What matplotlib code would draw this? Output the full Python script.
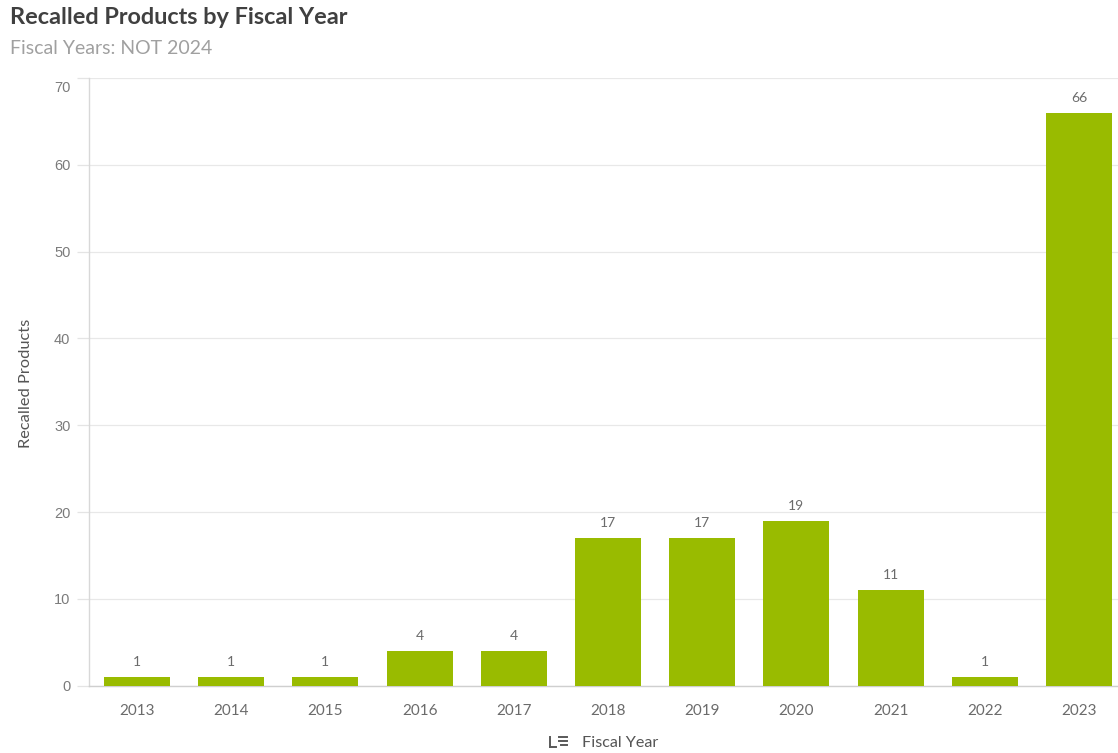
import matplotlib
matplotlib.use("Agg")
import matplotlib.pyplot as plt
from matplotlib.lines import Line2D

years = ["2013", "2014", "2015", "2016", "2017", "2018", "2019", "2020", "2021", "2022", "2023"]
recalled = [1, 1, 1, 4, 4, 17, 17, 19, 11, 1, 66]
y_ticks = [0, 10, 20, 30, 40, 50, 60, 70]

W, H = 1118, 753
plt.rcParams["font.family"] = ["Lato", "DejaVu Sans"]
fig = plt.figure(figsize=(W / 100, H / 100), dpi=100, facecolor="white")
L, R, T, B = 88.5, 1118, 78, 685.5
ax = fig.add_axes([L / W, 1 - B / H, (R - L) / W, (B - T) / H])

step = 94.2
ax.set_xlim(-(137 - L) / step, (R - 137) / step)
ax.set_ylim(0, 70)
ax.bar(range(len(years)), recalled, width=66 / step, color="#99BB00", zorder=3)

for s in ["top", "right"]:
    ax.spines[s].set_visible(False)
ax.spines["left"].set_color("#d8d8d8")
ax.spines["left"].set_linewidth(1.0)
ax.spines["bottom"].set_color("#cfcfcf")
ax.spines["bottom"].set_linewidth(1.0)
ax.set_axisbelow(True)
ax.yaxis.grid(True, color="#e8e8e8", linewidth=0.9)
ax.set_yticks(y_ticks)
ax.set_yticklabels([])
ax.tick_params(axis="y", length=8.6, width=0.9, color="#e4e4e4")
ax.set_xticks(range(len(years)))
ax.set_xticklabels(years, fontsize=11, color="#6b6b6b")
ax.tick_params(axis="x", length=0, pad=13)

# y labels; the top one is nudged inward, as in the reference
for v in y_ticks:
    off = 9 if v == 70 else 1
    ax.annotate(str(v), (0, v), xycoords=("axes fraction", "data"),
                xytext=(-13, -off * 0.72 - 0.5), textcoords="offset points",
                ha="right", va="center", fontsize=10.5, color="#7b7b7b",
                family="Liberation Sans")

for i, v in enumerate(recalled):
    ax.annotate(str(v), (i, v), xytext=(0, 6.5), textcoords="offset points",
                ha="center", va="bottom", fontsize=10, color="#6b6b6b")

fig.text(10 / W, 1 - 17 / H, "Recalled Products by Fiscal Year", fontsize=16.9,
         fontweight="bold", color="#404040", va="center", ha="left")
fig.text(10 / W, 1 - 48 / H, "Fiscal Years: NOT 2024", fontsize=14,
         color="#a0a0a0", va="center", ha="left")
fig.text(26 / W, 1 - 383 / H, "Recalled Products", fontsize=11.8, rotation=90,
         color="#555555", va="center", ha="center")
fig.text(582 / W, 1 - 743 / H, "Fiscal Year", fontsize=11.6, color="#555555",
         va="center", ha="left")

# sort icon next to the axis title
icon = [((550, 550), (737, 747)), ((550, 556), (747, 747)),
        ((559, 567), (737, 737)), ((559, 567), (741, 741)), ((561, 567), (745, 745))]
for xs, ys in icon:
    fig.add_artist(Line2D([x / W for x in xs], [1 - y / H for y in ys],
                          color="#595959", linewidth=1.4))

fig.savefig("out.png", dpi=100, facecolor="white")
